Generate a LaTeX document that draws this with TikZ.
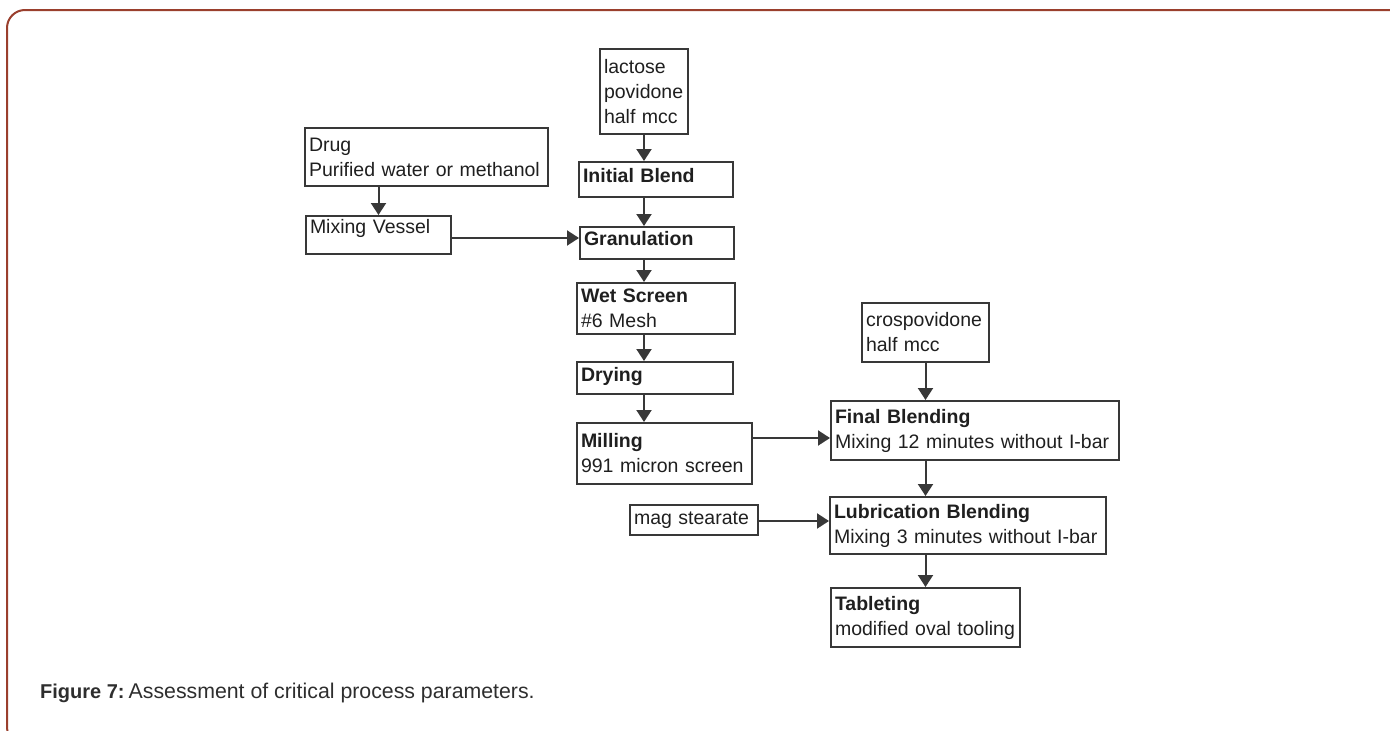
\documentclass[tikz,border=0pt]{standalone}
\usepackage{fontspec}
\setmainfont{Liberation Sans}
\usetikzlibrary{arrows.meta}
\definecolor{framec}{HTML}{9A3F2D}
\definecolor{boxc}{HTML}{383838}
\definecolor{capc}{HTML}{2E2E2E}
\tikzset{
  box/.style={draw=boxc, line width=2pt, anchor=north west, inner xsep=4pt, inner ysep=2pt,
    align=left, font=\fontsize{19.5}{25}\selectfont, text=black!88},
  arr/.style={draw=boxc, line width=2pt, -{Triangle[length=12pt,width=15pt]}}
}
\begin{document}
\begin{tikzpicture}[x=1pt,y=-1pt]
\useasboundingbox (0,0) rectangle (1390,731);
\begin{scope}
\clip (0,0) rectangle (1390,731);
\draw[framec, line width=2pt, rounded corners=18pt] (7,745) rectangle (1430,10);
\end{scope}
% boxes
\node[box, text width=80pt, minimum height=85pt] (lact) at (599,48) {lactose\\povidone\\half mcc};
\node[box, text width=146pt, minimum height=35pt, text depth=9pt] (init) at (578,161) {\textbf{Initial Blend}};
\node[box, text width=146pt, minimum height=32pt, text depth=9pt] (gran) at (579,226) {\textbf{Granulation}};
\node[box, text width=235pt, minimum height=58pt] (drug) at (304,127) {Drug\\Purified water or methanol};
\node[box, text width=137pt, minimum height=38pt, text depth=17pt] (mix) at (305,215) {Mixing Vessel};
\node[box, text width=150pt, minimum height=51pt] (wet) at (576,282) {\textbf{Wet Screen}\\\#6 Mesh};
\node[box, text width=148pt, minimum height=32pt, text depth=7pt] (dry) at (576,361) {\textbf{Drying}};
\node[box, text width=167pt, minimum height=61pt] (mill) at (576,422) {\textbf{Milling}\\991 micron screen};
\node[box, text width=119pt, minimum height=59pt] (crosp) at (861,302) {crospovidone\\half mcc};
\node[box, text width=280pt, minimum height=59pt] (final) at (830,400) {\textbf{Final Blending}\\Mixing 12 minutes without I-bar};
\node[box, text width=268pt, minimum height=57pt] (lub) at (829,496) {\textbf{Lubrication Blending}\\Mixing 3 minutes without I-bar};
\node[box, text width=120pt, minimum height=30pt] (mag) at (629,504) {mag stearate};
\node[box, text width=181pt, minimum height=59pt] (tab) at (830,587) {\textbf{Tableting}\\modified oval tooling};
% arrows
\draw[arr] (lact.south) -- (lact.south |- init.north);
\draw[arr] (init.south -| lact.south) -- (gran.north -| lact.south);
\draw[arr] (gran.south -| lact.south) -- (wet.north -| lact.south);
\draw[arr] (wet.south -| lact.south) -- (dry.north -| lact.south);
\draw[arr] (dry.south -| lact.south) -- (mill.north -| lact.south);
\draw[arr] (drug.south -| mix.north) -- (mix.north);
\draw[arr] (mix.east |- 0,238) -- (gran.west |- 0,238);
\draw[arr] (mill.east |- 0,438) -- (final.west |- 0,438);
\draw[arr] (crosp.south) -- (crosp.south |- final.north);
\draw[arr] (final.south -| crosp.south) -- (lub.north -| crosp.south);
\draw[arr] (mag.east |- 0,521) -- (lub.west |- 0,521);
\draw[arr] (lub.south -| crosp.south) -- (tab.north -| crosp.south);
% caption
\node[anchor=base west, inner sep=0pt, text=capc] (cap) at (40,698)
  {{\fontsize{20}{24}\selectfont\textbf{Figure 7:}}\hspace{4pt}{\fontsize{21.3}{24}\selectfont Assessment of critical process parameters.}};
\end{tikzpicture}
\end{document}
